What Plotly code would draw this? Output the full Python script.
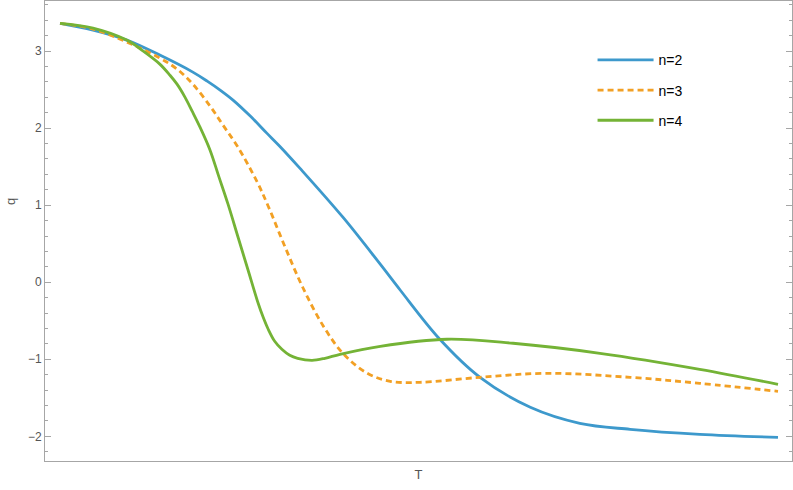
import plotly.graph_objects as go

# n=2
t_n2 = [0.000, 0.046, 0.093, 0.139, 0.185, 0.205, 0.223, 0.241, 0.265, 0.288, 0.306,
        0.334, 0.394, 0.446, 0.474, 0.529, 0.585, 0.655, 0.724, 0.794, 0.891, 1.000]
q_n2 = [3.360, 3.273, 3.143, 2.948, 2.727, 2.610, 2.494, 2.364, 2.156, 1.935, 1.766,
        1.481, 0.844, 0.234, -0.104, -0.740, -1.234, -1.623, -1.831, -1.909, -1.974, -2.013]

# n=3
t_n3 = [0.000, 0.046, 0.093, 0.139, 0.163, 0.185, 0.209, 0.227, 0.247, 0.274, 0.290, 0.313,
        0.338, 0.366, 0.394, 0.428, 0.460, 0.501, 0.585, 0.678, 0.794, 0.891, 1.000]
q_n3 = [3.360, 3.286, 3.117, 2.909, 2.766, 2.571, 2.286, 2.039, 1.766, 1.312, 0.987, 0.468,
        -0.065, -0.558, -0.922, -1.182, -1.286, -1.299, -1.234, -1.182, -1.234, -1.312, -1.416]

# n=4
t_n4 = [0.000, 0.046, 0.093, 0.116, 0.139, 0.153, 0.163, 0.174, 0.184, 0.195, 0.209, 0.221,
        0.234, 0.248, 0.262, 0.276, 0.283, 0.290, 0.299, 0.309, 0.320, 0.331, 0.351, 0.369,
        0.390, 0.446, 0.539, 0.631, 0.752, 0.891, 1.000]
q_n4 = [3.360, 3.299, 3.143, 2.999, 2.831, 2.688, 2.571, 2.403, 2.221, 2.013, 1.714, 1.377,
        1.013, 0.584, 0.156, -0.273, -0.455, -0.610, -0.766, -0.870, -0.948, -0.987, -1.013, -0.987,
        -0.935, -0.831, -0.740, -0.792, -0.922, -1.130, -1.325]

y_ticks = [-2, -1, 0, 1, 2, 3]

FONT = "Liberation Sans, Arial, sans-serif"
FRAME = "#a6a6a6"

fig = go.Figure()
for t, q, name, color, dash in [
    (t_n2, q_n2, "n=2", "#3d99cc", "solid"),
    (t_n3, q_n3, "n=3", "#f2a024", "6px,4px"),
    (t_n4, q_n4, "n=4", "#74b336", "solid"),
]:
    fig.add_trace(go.Scatter(
        x=t, y=q,
        mode="lines",
        name=name,
        legendgroup=name,
        line=dict(color=color, width=2.8, dash=dash, shape="spline", smoothing=1.0),
    ))

# y label as annotation (Mathematica puts it a bit above centre)
fig.add_annotation(
    text="q", xref="paper", yref="paper", x=-0.047, y=0.565,
    xanchor="center", yanchor="middle", textangle=-90, showarrow=False,
    font=dict(size=13, color="#555555"),
)

fig.update_layout(
    width=793,
    height=490,
    margin=dict(l=45, r=1, t=1, b=29),
    paper_bgcolor="white",
    plot_bgcolor="white",
    font=dict(family=FONT, size=12, color="#555555"),
    showlegend=True,
    legend=dict(
        x=0.733, y=0.906, xanchor="left", yanchor="top",
        font=dict(family=FONT, size=14, color="black"),
        tracegroupgap=9,
        itemwidth=56,
        bgcolor="rgba(0,0,0,0)",
    ),
    xaxis=dict(
        range=[-0.0209, 1.0195],
        showticklabels=False,
        ticks="",
        showgrid=False,
        zeroline=False,
        showline=True,
        linecolor=FRAME,
        linewidth=1,
        mirror=True,
        automargin=False,
        title=dict(text="T", font=dict(size=13, color="#555555"), standoff=8),
    ),
    yaxis=dict(
        range=[-2.32, 3.65],
        tickvals=y_ticks,
        ticks="inside",
        ticklen=6,
        tickcolor=FRAME,
        showgrid=False,
        zeroline=False,
        showline=True,
        linecolor=FRAME,
        linewidth=1,
        mirror="allticks",
        automargin=False,
        minor=dict(dtick=0.2, ticks="inside", ticklen=3, tickcolor=FRAME, showgrid=False),
    ),
)

fig.write_html(
    "out.html",
    config={"displayModeBar": False},
    post_script="document.body.style.margin='0px';",
)
